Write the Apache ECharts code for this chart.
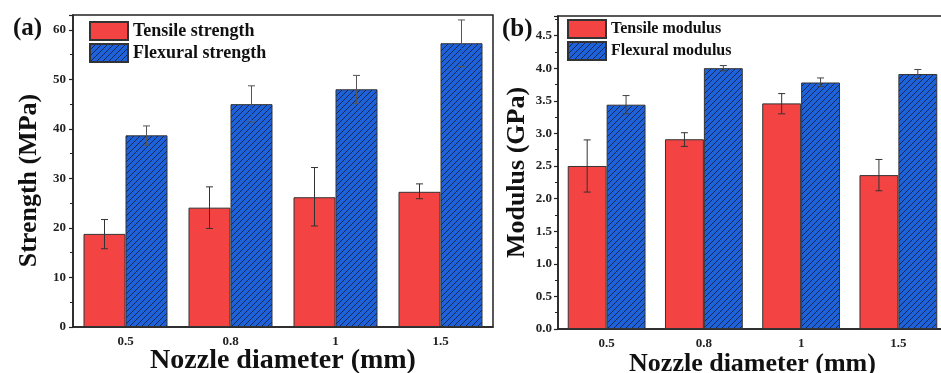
<!DOCTYPE html>
<html>
<head>
<meta charset="utf-8">
<script src="https://cdn.jsdelivr.net/npm/echarts@6/dist/echarts.min.js"></script>
<style>
  html, body { margin: 0; padding: 0; background: #fff; }
  #chart { width: 941px; height: 373px; }
</style>
</head>
<body>
<div id="chart"></div>
<script>
const categories = ['0.5', '0.8', '1', '1.5'];

// panel (a) strength, MPa
const tensileStrength = [18.8, 24.1, 26.2, 27.3];
const tensileStrengthErr = [[15.8, 21.7], [19.9, 28.3], [20.4, 32.2], [25.9, 28.9]];
const flexuralStrength = [38.7, 45.0, 48.0, 57.3];
const flexuralStrengthErr = [[36.7, 40.6], [41.4, 48.7], [45.1, 50.8], [52.6, 62.0]];

// panel (b) modulus, GPa
const tensileModulus = [2.50, 2.91, 3.46, 2.36];
const tensileModulusErr = [[2.10, 2.90], [2.80, 3.01], [3.30, 3.61], [2.12, 2.60]];
const flexuralModulus = [3.44, 4.00, 3.78, 3.91];
const flexuralModulusErr = [[3.30, 3.58], [3.96, 4.04], [3.72, 3.85], [3.84, 3.98]];

const RED = '#f44343';
const BLUE = '#1e62da';
const FONT = '"Liberation Serif", "DejaVu Serif", serif';

// hatch tile for the flexural bars
function hatch() {
  const s = 6;
  const c = document.createElement('canvas');
  c.width = s; c.height = s;
  const g = c.getContext('2d');
  g.fillStyle = BLUE;
  g.fillRect(0, 0, s, s);
  g.strokeStyle = '#10204a';
  g.lineWidth = 0.9;
  g.beginPath();
  g.moveTo(0, s); g.lineTo(s, 0);
  g.moveTo(-1, 1); g.lineTo(1, -1);
  g.moveTo(s - 1, s + 1); g.lineTo(s + 1, s - 1);
  g.stroke();
  return { image: c, repeat: 'repeat' };
}
const hatchFill = hatch();

function errData(arr) {
  return arr.map((d, i) => [i, d[0], d[1]]);
}

function errSeries(arr, offset, gi, color) {
  return {
    type: 'custom',
    xAxisIndex: gi, yAxisIndex: gi,
    silent: true, z: 5,
    data: errData(arr),
    encode: { x: 0, y: [1, 2] },
    renderItem: function (params, api) {
      const lo = api.coord([api.value(0), api.value(1)]);
      const hi = api.coord([api.value(0), api.value(2)]);
      const band = api.size([1, 0])[0];
      const x = lo[0] + offset * band;
      const hw = 3.5;
      const st = { stroke: color, lineWidth: 1 };
      return {
        type: 'group',
        children: [
          { type: 'line', shape: { x1: x, y1: lo[1], x2: x, y2: hi[1] }, style: st },
          { type: 'line', shape: { x1: x - hw, y1: lo[1], x2: x + hw, y2: lo[1] }, style: st },
          { type: 'line', shape: { x1: x - hw, y1: hi[1], x2: x + hw, y2: hi[1] }, style: st }
        ]
      };
    }
  };
}

function barSeries(name, data, gi, color) {
  return {
    name: name,
    type: 'bar',
    xAxisIndex: gi, yAxisIndex: gi,
    data: data,
    barGap: '0%',
    barCategoryGap: '20%',
    itemStyle: { color: color, borderColor: '#333', borderWidth: 1 }
  };
}

function xAx(gi, nameSize, nameGap) {
  return {
    type: 'category',
    gridIndex: gi,
    data: categories,
    name: 'Nozzle diameter (mm)',
    nameLocation: 'middle',
    nameGap: nameGap,
    nameMoveOverlap: false,
    nameTextStyle: { fontFamily: FONT, fontWeight: 'bold', fontSize: nameSize, color: '#111' },
    axisLine: { lineStyle: { color: '#222', width: 1.5 } },
    axisTick: { show: false },
    axisLabel: { fontFamily: FONT, fontWeight: 'bold', fontSize: 13, color: '#222', margin: 8 },
    splitLine: { show: false }
  };
}

function yAx(gi, name, max, interval, digits, margin, nameGap, shift) {
  return {
    type: 'value',
    gridIndex: gi,
    min: 0, max: max, interval: interval,
    name: name,
    nameLocation: 'middle',
    nameGap: nameGap,
    nameMoveOverlap: false,
    nameTextStyle: {
      fontFamily: FONT, fontWeight: 'bold', fontSize: 26, color: '#111',
      padding: [0, shift, 0, 0]
    },
    axisLine: { show: true, lineStyle: { color: '#222', width: 1.5 } },
    axisTick: { show: true, length: 4, lineStyle: { color: '#222', width: 1.2 } },
    minorTick: { show: true, splitNumber: 2, length: 3, lineStyle: { color: '#222', width: 1 } },
    axisLabel: {
      fontFamily: FONT, fontWeight: 'bold', fontSize: 13, color: '#222', margin: margin,
      showMaxLabel: false,
      formatter: v => v.toFixed(digits)
    },
    splitLine: { show: false }
  };
}

function legend(left, top, names, size) {
  return {
    orient: 'vertical',
    left: left, top: top,
    itemWidth: 38, itemHeight: 18, itemGap: 2,
    icon: 'rect',
    data: names,
    selectedMode: false,
    textStyle: { fontFamily: FONT, fontWeight: 'bold', fontSize: size, color: '#111' }
  };
}

const chart = echarts.init(document.getElementById('chart'));
chart.setOption({
  animation: false,
  backgroundColor: '#fff',
  grid: [
    { left: 73, top: 15, right: 448, bottom: 46, outerBoundsMode: 'none', containLabel: false,
      show: true, borderColor: '#222', borderWidth: 1.5 },
    { left: 558, top: 16, right: -6, bottom: 44, outerBoundsMode: 'none', containLabel: false,
      show: true, borderColor: '#222', borderWidth: 1.5 }
  ],
  legend: [
    legend(84, 16, ['Tensile strength', 'Flexural strength'], 18),
    legend(562, 14, ['Tensile modulus', 'Flexural modulus'], 16)
  ],
  xAxis: [xAx(0, 28, 20), xAx(1, 26, 22)],
  yAxis: [
    yAx(0, 'Strength (MPa)', 63, 10, 0, 7, 31, 19),
    yAx(1, 'Modulus (GPa)', 4.8, 0.5, 1, 6, 28, 0)
  ],
  graphic: [
    { type: 'text', left: 13, top: 16, style: { text: '(a)', font: 'bold 25px ' + FONT, fill: '#111' } },
    { type: 'text', left: 502, top: 17, style: { text: '(b)', font: 'bold 25px ' + FONT, fill: '#111' } }
  ],
  series: [
    barSeries('Tensile strength', tensileStrength, 0, RED),
    barSeries('Flexural strength', flexuralStrength, 0, hatchFill),
    errSeries(tensileStrengthErr, -0.2, 0, '#333'),
    errSeries(flexuralStrengthErr, 0.2, 0, '#555'),
    barSeries('Tensile modulus', tensileModulus, 1, RED),
    barSeries('Flexural modulus', flexuralModulus, 1, hatchFill),
    errSeries(tensileModulusErr, -0.2, 1, '#333'),
    errSeries(flexuralModulusErr, 0.2, 1, '#444')
  ]
});
</script>
</body>
</html>
